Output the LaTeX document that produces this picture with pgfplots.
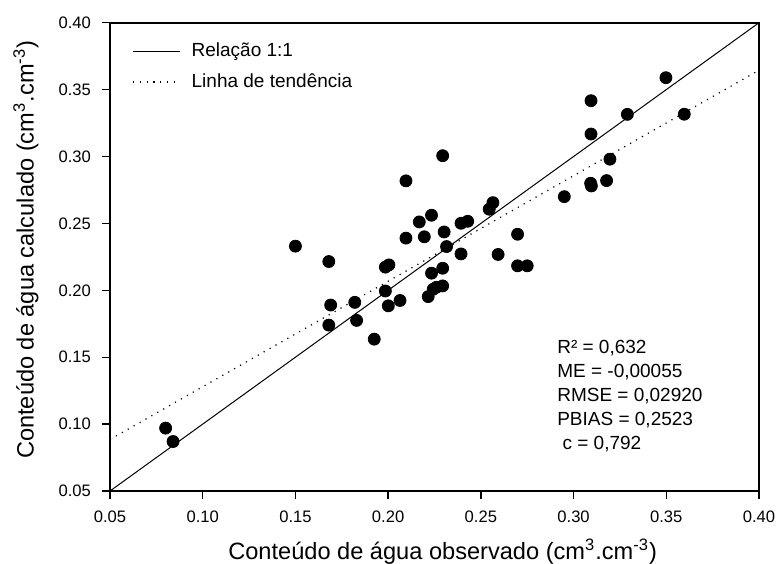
\documentclass[border=0pt]{standalone}
\usepackage{fontspec}
\setmainfont{Liberation Sans}
\usepackage{pgfplots}
\pgfplotsset{compat=1.18}
\begin{document}
\begin{tikzpicture}
\begin{axis}[
  scale only axis,
  width=324.5pt, height=234.15pt,
  xmin=0.05, xmax=0.40, ymin=0.05, ymax=0.40,
  xtick={0.05,0.1,0.15,0.2,0.25,0.3,0.35,0.4},
  ytick={0.05,0.1,0.15,0.2,0.25,0.3,0.35,0.4},
  tick pos=left, tick align=outside,
  major tick length=4pt,
  axis line style={line width=0.9pt},
  every tick/.style={black, line width=0.7pt},
  ticklabel style={font=\fontsize{8.3}{9}\selectfont,
    /pgf/number format/fixed, /pgf/number format/fixed zerofill,
    /pgf/number format/precision=2, /pgf/number format/assume math mode=true},
  xticklabel style={yshift=-2.5pt},
  yticklabel style={xshift=-2pt},
  xlabel={Conteúdo de água observado (cm\textsuperscript{3}.cm\textsuperscript{-3})},
  ylabel={Conteúdo de água calculado (cm\textsuperscript{3}.cm\textsuperscript{-3})},
  every axis x label/.style={at={(axis description cs:0.5125,-0.1303)}, anchor=center,
    font=\fontsize{11.8}{14}\selectfont},
  every axis y label/.style={at={(axis description cs:-0.1294,0.515)}, anchor=center, rotate=90,
    font=\fontsize{11.8}{14}\selectfont},
  legend style={draw=none, fill=none, at={(axis description cs:0.034,0.958)}, anchor=north west,
    font=\fontsize{9.5}{11}\selectfont, inner sep=0pt, row sep=7pt, column sep=5.5pt,
    nodes={inner sep=0pt}},
  legend cell align=left,
  legend image code/.code={\draw[#1] (0pt,0pt) -- (23.5pt,0pt);},
]
\addplot[black, line width=0.5pt] coordinates {(0.05,0.05) (0.40,0.40)};
\addlegendentry{Relação 1:1}
\addplot[black, line width=0.6pt, dash pattern=on 0.6pt off 2.8pt] coordinates {(0.05,0.0885) (0.40,0.3645)};
\addlegendentry{Linha de tendência}
\addplot[only marks, mark=*, mark size=3pt, black, forget plot] coordinates {
(0.080,0.097) (0.084,0.087) (0.150,0.233) (0.168,0.174) (0.168,0.2215)
(0.169,0.189) (0.182,0.191) (0.183,0.1775) (0.1925,0.1635) (0.1985,0.2173)
(0.1985,0.1995) (0.2004,0.219) (0.2001,0.1884) (0.2064,0.1924) (0.2096,0.239)
(0.2096,0.2818) (0.2168,0.2511) (0.2195,0.240) (0.2216,0.1953) (0.2234,0.2561)
(0.2234,0.2128) (0.2243,0.2008) (0.2261,0.2023) (0.2294,0.3006) (0.2294,0.2165)
(0.2294,0.2033) (0.2302,0.2436) (0.2315,0.2327) (0.2393,0.2272) (0.2393,0.2501)
(0.2429,0.2516) (0.2545,0.2606) (0.2565,0.2655) (0.2593,0.2268) (0.2698,0.2419)
(0.2698,0.2183) (0.2750,0.2183) (0.2950,0.2700) (0.3092,0.280) (0.3096,0.278)
(0.3094,0.3417) (0.3094,0.3168) (0.3178,0.282) (0.3196,0.298) (0.3290,0.3315)
(0.3498,0.3589) (0.3597,0.3316)
};
\node[anchor=north west, inner sep=0pt, align=left, font=\fontsize{9.5}{12.1}\selectfont]
  at (axis cs:0.291,0.1633) {R² = 0,632\\ME = -0,00055\\RMSE = 0,02920\\PBIAS = 0,2523\\\ c = 0,792};
\end{axis}
\pgfresetboundingbox
\path[use as bounding box] (-55pt,-36pt) rectangle (334.5pt,245.5pt);
\end{tikzpicture}
\end{document}
